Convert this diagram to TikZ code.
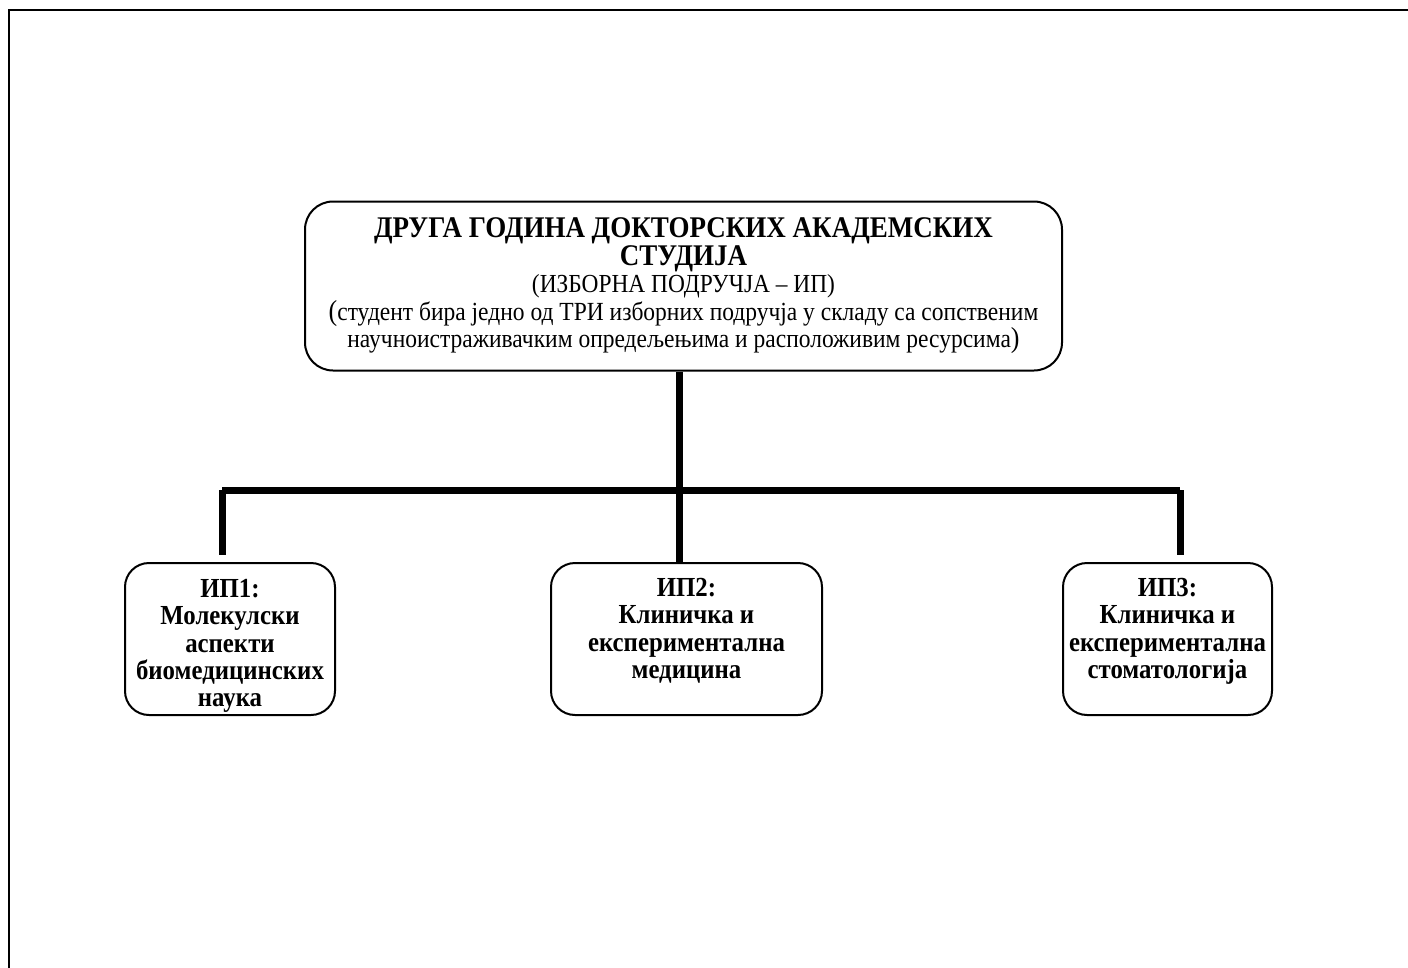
\documentclass[tikz,border=0pt]{standalone}
\usepackage{fontspec}
\setmainfont{Liberation Serif}[FakeStretch=0.9]
\def\pxu{0.45pt}
\newcommand{\subtxt}[1]{{\fontsize{11.75}{12.4}\selectfont #1}}
\newcommand{\toppad}{\rule{0pt}{14.5pt}}

\begin{document}
\begin{tikzpicture}[x=0.45pt, y=-0.45pt,
		box/.style={draw, line width=2*\pxu, rounded corners=28*\pxu, align=center,
			inner sep=0pt, font=\fontsize{13}{12.4}\selectfont},
		subbox/.style={box, font=\bfseries\fontsize{12.4}{12.26}\selectfont,
			minimum height=152*\pxu, rounded corners=24*\pxu},
		link/.style={line width=7*\pxu}]
		\useasboundingbox (0,0) rectangle (1408,968);
		\draw[line width=2*\pxu] (9,968) -- (9,10) -- (1408,10);
		
		\node[box, minimum width=757*\pxu, minimum height=169*\pxu] (top) at (683.5,286)
			{{\bfseries\fontsize{13.5}{12.4}\selectfont ДРУГА ГОДИНА ДОКТОРСКИХ АКАДЕМСКИХ}\\
			{\bfseries\fontsize{13.5}{12.4}\selectfont СТУДИЈА}\\
			{\fontsize{11.7}{12.4}\selectfont (ИЗБОРНА ПОДРУЧЈА – ИП)}\\
			(\subtxt{студент бира једно од ТРИ изборних подручја у складу са сопственим}\\
			\subtxt{научноистраживачким опредељењима и расположивим ресурсима})};
		
		\node[subbox, minimum width=210*\pxu] (ip1) at (230,639)
			{\toppad ИП1:\\ Молекулски\\ аспекти\\ биомедицинских\\ наука};
		\node[subbox, minimum width=271*\pxu] (ip2) at (686.5,639)
			{\toppad ИП2:\\ Клиничка и\\ експериментална\\ медицина\\ \strut};
		\node[subbox, minimum width=209*\pxu] (ip3) at (1167.5,639)
			{\toppad ИП3:\\ Клиничка и\\ експериментална\\ стоматологија\\ \strut};
		
		\coordinate (hub) at (679,490);
		\coordinate (barL) at (222,490);
		\coordinate (barR) at (1180,490);
		
		\draw[link] (top.south -| hub) -- (ip2.north -| hub);
		\draw[link] (barL) -- (barR);
		\draw[link, shorten >=7*\pxu] (barL) -- (ip1.north -| barL);
		\draw[link, shorten >=7*\pxu] (barR) -- (ip3.north -| barR);
	\end{tikzpicture}
\end{document}
